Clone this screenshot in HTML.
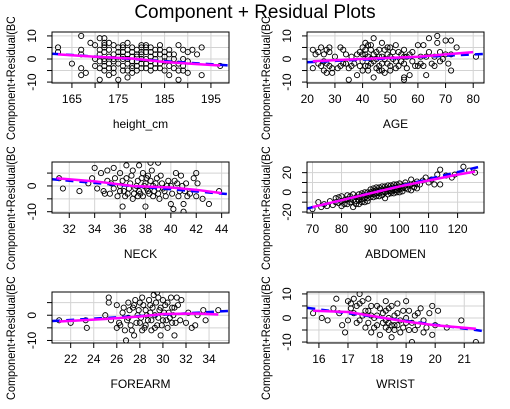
<!DOCTYPE html>
<html><head><meta charset="utf-8"><style>
body{margin:0;background:#fff}
svg{display:block;font-family:"Liberation Sans",sans-serif}
</style></head><body>
<svg id="s" width="510" height="409">
<text x="255" y="18" font-size="19" text-anchor="middle">Component + Residual Plots</text>
</svg>
<script>
const heightPts=[[162,5],[162,3],[165,-2],[167,10],[167,4],[167,2],[167,-4],[167,-7],[168,-6],[169,7],[170,6],[170,-3],[171,9],[171,2],[171,-1],[171,-9],[172,9],[172,6],[172,5],[172,3],[172,0],[172,-3],[172,-5],[173,7],[173,4],[173,1],[173,-2],[173,-7],[174,6],[174,2],[174,-1],[174,-4],[175,5],[175,-2],[175,-9],[176,6],[176,3],[176,0],[176,-3],[177,7],[177,2],[177,-2],[177,-8],[178,5],[178,1],[178,-3],[179,4],[179,-1],[179,-5],[180,5],[180,2],[180,-2],[181,6],[181,3],[181,0],[181,-4],[182,5],[182,1],[182,-3],[183,4],[183,0],[183,-4],[184,6],[184,2],[184,-2],[185,3],[185,-1],[185,-5],[186,2],[186,-7],[187,0],[187,-4],[188,6],[188,-2],[188,-9],[189,4],[189,-5],[190,-1],[190,-6],[191,4],[192,2],[193,5],[193,-7],[197,-3],
[170,0],[171,4],[171,-4],[172,-1],[172,7],[173,-4],[174,0],[174,-6],[175,1],[175,3],[176,-5],[176,5],[177,0],[177,4],[177,-5],[178,-1],[178,3],[178,-6],[179,2],[179,-3],[180,0],[180,-4],[180,3],[181,-2],[181,5],[182,-1],[182,3],[183,2],[183,-2],[184,4],[184,-4],[185,1],[186,-3],[186,4],[187,2],[188,-5],[189,0],[189,-3],[190,3],[176,1],[178,-4],[180,6],[182,-5],[179,1]];
const heightFit=[[160.7,2.3],[199,-2.8]];
const heightSmooth=[[162,2],[170,1],[178,0.2],[185,-1.3],[192,-2.2],[197,-2.8]];
const agePts=[[22,4],[22,-4],[23,2],[24,-2],[25,5],[25,-3],[26,-1],[26,-5],[27,4],[27,-6],[28,3],[28,-3],[29,-6],[30,1],[31,-4],[32,5],[33,-2],[33,4],[34,2],[35,-9],[35,-4],[36,1],[37,-2],[38,-7],[39,3],[39,-3],[40,5],[40,-1],[40,-5],[41,7],[41,2],[42,6],[42,-3],[43,4],[43,0],[44,9],[44,-8],[45,3],[45,-4],[46,1],[46,-5],[47,7],[47,-2],[48,4],[48,-6],[49,2],[50,5],[50,-3],[51,0],[52,6],[52,-4],[53,3],[54,-1],[55,4],[55,-8],[55,-9],[56,1],[57,-7],[58,3],[59,-3],[60,6],[61,1],[62,6],[62,-3],[63,-7],[64,9],[64,3],[65,-2],[66,1],[67,10],[67,7],[68,3],[69,0],[70,8],[71,-2],[72,8],[72,-5],[72,2],[74,5],[81,1],
[24,3],[26,2],[27,-2],[28,5],[29,-4],[32,-3],[34,-2],[36,-3],[38,2],[40,2],[41,-3],[41,4],[42,1],[42,-5],[43,-2],[43,6],[44,2],[44,-1],[45,0],[46,-3],[46,4],[47,1],[47,-5],[48,0],[49,-2],[49,5],[50,1],[50,-5],[51,3],[52,-1],[53,-3],[54,2],[55,-2],[55,1],[56,-4],[57,2],[58,-1],[60,-3],[61,-2],[63,1],[66,-3],[68,-1],[70,2]];
const ageFit=[[19.9,-1.4],[83.9,2.2]];
const ageSmooth=[[22,-1],[35,-0.2],[50,0.5],[60,1],[70,2],[80,3]];
const neckPts=[[31.2,3],[31.5,-1],[32.8,-2],[33.5,1],[33.8,3],[34,7],[34.2,-1],[34.5,5],[34.7,-2],[35,6],[35,2],[35.2,-3],[35.5,7],[35.5,-1],[35.6,3],[35.8,-4],[36,5],[36,0],[36.2,-8],[36.3,-2],[36.5,8],[36.5,3],[36.6,-3],[36.8,1],[37,6],[37,-5],[37.2,-1],[37.4,2],[37.5,8],[37.6,-3],[37.8,5],[37.9,0],[38,-8],[38.1,3],[38.2,-2],[38.4,9],[38.5,6],[38.6,-4],[38.8,1],[39,9],[39,-3],[39.2,4],[39.4,-1],[39.6,-4],[39.8,2],[40,0],[40,-7],[40.2,-9],[40.4,5],[40.5,1],[40.7,-2],[40.8,4],[41,-10],[41,-7],[41.2,1],[41.5,-3],[41.8,3],[42,5],[42,-4],[42.1,1],[42.5,-5],[43,-7],[43.8,-2],
[34.8,-3],[35.3,1],[36,-2],[36.4,-4],[36.7,-1],[36.9,4],[37.1,-3],[37.3,0],[37.5,-2],[37.7,3],[37.8,-4],[38,1],[38.1,-1],[38.3,-3],[38.4,2],[38.6,0],[38.7,-2],[38.9,3],[39,-1],[39.1,-5],[39.3,1],[39.5,-2],[39.7,0],[40.1,-3],[40.3,2],[40.6,-4],[40.9,0],[41.1,-2],[41.3,-4],[38.2,4],[37.4,-4],[36.2,2]];
const neckFit=[[30.6,2.6],[44.6,-3.2]];
const neckSmooth=[[31,3],[34,1.8],[37,0],[40,-0.6],[42,-1.5],[44,-2.8]];
const abdPts=[[70,-17],[72,-10],[73,-15],[74,-12],[75,-14],[76,-9],[77,-13],[78,-6],[79,-11],[80,-4],[80,-14],[81,-8],[82,-12],[82,-3],[83,-7],[84,-15],[84,-2],[85,-9],[86,-5],[86,-12],[87,-1],[87,-7],[88,-3],[88,-10],[89,0],[89,-6],[90,-2],[90,3],[91,-5],[91,1],[92,-1],[92,5],[93,2],[93,-4],[94,6],[94,0],[95,-6],[95,3],[96,7],[96,1],[97,4],[97,-1],[98,8],[98,2],[99,5],[99,0],[100,9],[100,3],[101,6],[101,1],[102,10],[102,4],[103,7],[104,13],[104,2],[105,9],[106,11],[106,4],[107,8],[108,12],[109,15],[110,10],[111,13],[112,8],[113,18],[114,23],[114,8],[116,17],[118,15],[119,18],[122,26],[124,22],[126,20],
[78,-10],[79,-5],[80,-9],[81,-12],[82,-7],[83,-10],[83,-4],[84,-8],[85,-5],[85,-12],[86,-8],[86,-2],[87,-4],[87,-10],[88,-6],[88,0],[89,-3],[89,-9],[90,-5],[90,0],[91,-2],[91,4],[92,-4],[92,2],[93,-1],[93,5],[94,3],[94,-3],[95,0],[95,6],[96,4],[96,-2],[97,1],[97,7],[98,5],[98,-1],[99,2],[99,8],[100,6],[100,0],[101,4],[102,7],[103,3],[104,8],[105,5],[106,8]];
const abdFit=[[68.1,-16.5],[129,27]];
const abdSmooth=[[70,-15],[80,-8],[90,-1],[100,6],[110,12],[120,18],[126,21]];
const forePts=[[21,-2],[22,-3],[23.3,-2],[23.4,-5],[25,0],[25.3,5],[25.3,7],[25.5,-2],[26,-5],[26,4],[26.2,-3],[26.5,1],[26.7,-6],[26.8,-10],[27,5],[27,-1],[27.2,-4],[27.4,3],[27.5,-8],[27.6,6],[27.8,0],[28,-3],[28,5],[28.2,7],[28.4,-5],[28.5,2],[28.7,-2],[28.9,4],[29,-6],[29.2,8],[29.3,0],[29.5,-4],[29.5,9],[29.7,2],[29.8,-8],[30,6],[30,-2],[30.2,4],[30.4,-5],[30.5,1],[30.7,7],[30.8,-3],[31,3],[31,-8],[31.2,7],[31.5,-2],[31.6,6],[32,-3],[32.2,1],[32.5,-5],[32.8,-4],[33,0],[33.5,2],[33.7,-2],[34.8,2],
[26.3,-4],[26.6,3],[26.9,-2],[27.1,2],[27.3,-6],[27.5,4],[27.7,-3],[27.9,2],[28.1,-1],[28.3,4],[28.5,-4],[28.6,0],[28.8,6],[29,-2],[29.1,3],[29.3,-5],[29.4,5],[29.6,-1],[29.8,3],[29.9,-4],[30.1,1],[30.3,-2],[30.4,5],[30.6,-1],[30.8,3],[30.9,0],[31.1,-3],[31.3,4],[28.9,1],[28.2,-6],[29.6,7]];
const foreFit=[[20.4,-2.3],[35.7,1.7]];
const foreSmooth=[[21,-2.5],[25,-1.5],[28,-0.5],[30,0.5],[33,0.7],[34.8,0.3]];
const wristPts=[[15.8,2],[16.1,0],[16.3,-1],[16.5,4],[16.6,8],[16.7,2],[16.8,-3],[16.9,-6],[17,7],[17,-1],[17.1,4],[17.2,8],[17.3,-2],[17.4,10],[17.4,6],[17.5,1],[17.6,-4],[17.7,8],[17.7,3],[17.8,-6],[17.9,0],[18,5],[18,-3],[18.1,-7],[18.2,2],[18.3,7],[18.3,-1],[18.4,4],[18.4,-5],[18.5,-8],[18.6,1],[18.7,6],[18.7,-3],[18.8,-6],[18.9,3],[19,-2],[19,7],[19.1,-5],[19.2,-10],[19.3,1],[19.4,-3],[19.5,4],[19.6,-6],[19.8,2],[19.9,-7],[19.9,5],[20,-3],[20.1,3],[20.4,-4],[20.9,-1],[21.4,-10],
[17.1,6],[17.2,2],[17.3,5],[17.4,-1],[17.5,7],[17.6,3],[17.7,-2],[17.8,5],[17.9,-4],[18,1],[18.1,4],[18.2,-2],[18.3,3],[18.4,0],[18.5,-3],[18.5,5],[18.6,-5],[18.7,2],[18.8,-1],[18.9,-4],[19,0],[19.1,3],[19.2,-2],[19.3,-5],[19.4,2],[19.6,-1],[19.7,-4],[18.4,-2],[18.6,-3],[18.3,-4],[17.8,1]];
const wristFit=[[15.6,4.2],[21.7,-5.5]];
const wristSmooth=[[15.8,3],[17,2.5],[18,0.5],[19,-1.5],[20,-3],[21.4,-4.5]];

const panels=[
 {id:'height',lab:'height_cm',x0:52,y0:32,xd:[160.7,198.9],yd:[-10.4,11.7],xt:[165,170,175,180,185,190,195],xl:[165,175,185,195],yt:[-10,-5,0,5,10],yl:[-10,0,10],pts:heightPts,fit:heightFit,sm:heightSmooth},
 {id:'age',lab:'AGE',x0:307,y0:32,xd:[19.9,83.9],yd:[-10.4,11.7],xt:[20,30,40,50,60,70,80],xl:[20,30,40,50,60,70,80],yt:[-10,-5,0,5,10],yl:[-10,0,10],pts:agePts,fit:ageFit,sm:ageSmooth},
 {id:'neck',lab:'NECK',x0:52,y0:162,xd:[30.64,44.58],yd:[-10.5,9.3],xt:[32,34,36,38,40,42,44],xl:[32,34,36,38,40,42,44],yt:[-10,-5,0,5],yl:[-10,0],pts:neckPts,fit:neckFit,sm:neckSmooth},
 {id:'abdomen',lab:'ABDOMEN',x0:307,y0:162,xd:[68.1,129.1],yd:[-21,30.8],xt:[70,80,90,100,110,120],xl:[70,80,90,100,110,120],yt:[-20,-10,0,10,20],yl:[-20,0,20],pts:abdPts,fit:abdFit,sm:abdSmooth},
 {id:'forearm',lab:'FOREARM',x0:52,y0:292,xd:[20.38,35.73],yd:[-11,9.2],xt:[22,24,26,28,30,32,34],xl:[22,24,26,28,30,32,34],yt:[-10,-5,0,5],yl:[-10,0],pts:forePts,fit:foreFit,sm:foreSmooth},
 {id:'wrist',lab:'WRIST',x0:307,y0:292,xd:[15.59,21.68],yd:[-10.4,10.8],xt:[16,17,18,19,20,21],xl:[16,17,18,19,20,21],yt:[-10,-5,0,5,10],yl:[-10,0,10],pts:wristPts,fit:wristFit,sm:wristSmooth}
];
const NS='http://www.w3.org/2000/svg';
const svg=document.getElementById('s');
function mk(tag,attrs,parent){const e=document.createElementNS(NS,tag);for(const k in attrs)e.setAttribute(k,attrs[k]);(parent||svg).appendChild(e);return e;}
const W=177,H=51;
panels.forEach(p=>{
 const g=mk('g',{});
 
 
 const sx=v=>p.x0+(v-p.xd[0])/(p.xd[1]-p.xd[0])*W;
 const sy=v=>p.y0+H-(v-p.yd[0])/(p.yd[1]-p.yd[0])*H;
 const cid='clip-'+p.id;
 const cp=mk('clipPath',{id:cid},g);mk('rect',{x:p.x0,y:p.y0,width:W,height:H},cp);
 const lcid='lclip-'+p.id;
 const lcp=mk('clipPath',{id:lcid},g);mk('rect',{x:p.x0-52,y:p.y0-15,width:40,height:126},lcp);
 p.xt.forEach(t=>{const l=mk('line',{x1:sx(t),x2:sx(t),y1:p.y0,y2:p.y0+H,stroke:'#d3d3d3','stroke-width':1},g);
  const tk=mk('line',{x1:sx(t),x2:sx(t),y1:p.y0+H,y2:p.y0+H+5,stroke:'#000'},g);});
 p.yt.forEach(t=>{const l=mk('line',{y1:sy(t),y2:sy(t),x1:p.x0,x2:p.x0+W,stroke:'#d3d3d3','stroke-width':1},g);
  const tk=mk('line',{y1:sy(t),y2:sy(t),x1:p.x0-5,x2:p.x0,stroke:'#000'},g);});
 p.xl.forEach(t=>{const tx=mk('text',{x:sx(t),y:p.y0+H+20,'font-size':12,'text-anchor':'middle'},g);tx.textContent=t;});
 p.yl.forEach(t=>{const yy=sy(t),xx=p.x0-16;const tx=mk('text',{x:xx,y:yy,'font-size':12,'text-anchor':'middle',transform:`rotate(-90 ${xx} ${yy})`},g);tx.textContent=t;});
 const dg=mk('g',{'clip-path':`url(#${cid})`},g);
 p.pts.forEach(d=>{const c=mk('circle',{cx:sx(d[0]),cy:sy(d[1]),r:2.6,fill:'none',stroke:'#000','stroke-width':0.9},dg);});
 const f=mk('polyline',{points:p.fit.map(d=>sx(d[0])+','+sy(d[1])).join(' '),fill:'none',stroke:'#0000ff','stroke-width':2.5,'stroke-dasharray':'8 6'},dg);
 
 const s=mk('polyline',{points:p.sm.map(d=>sx(d[0])+','+sy(d[1])).join(' '),fill:'none',stroke:'#ff00ff','stroke-width':2.5,'stroke-linejoin':'round'},dg);
 
 const b=mk('rect',{x:p.x0,y:p.y0,width:W,height:H,fill:'none',stroke:'#000','stroke-width':1},g);
 
 const xl=mk('text',{x:p.x0+W/2,y:p.y0+H+45,'font-size':12,'text-anchor':'middle'},g);xl.textContent=p.lab;
 
 const lx=p.x0-37,ly=p.y0+108;
 const lg=mk('g',{'clip-path':`url(#${lcid})`},g);
 const yl=mk('text',{x:lx,y:ly,'font-size':12,'text-anchor':'start',textLength:124,lengthAdjust:'spacingAndGlyphs',transform:`rotate(-90 ${lx} ${ly})`},lg);yl.textContent='Component+Residual(BC';
 
});
</script>
</body></html>
